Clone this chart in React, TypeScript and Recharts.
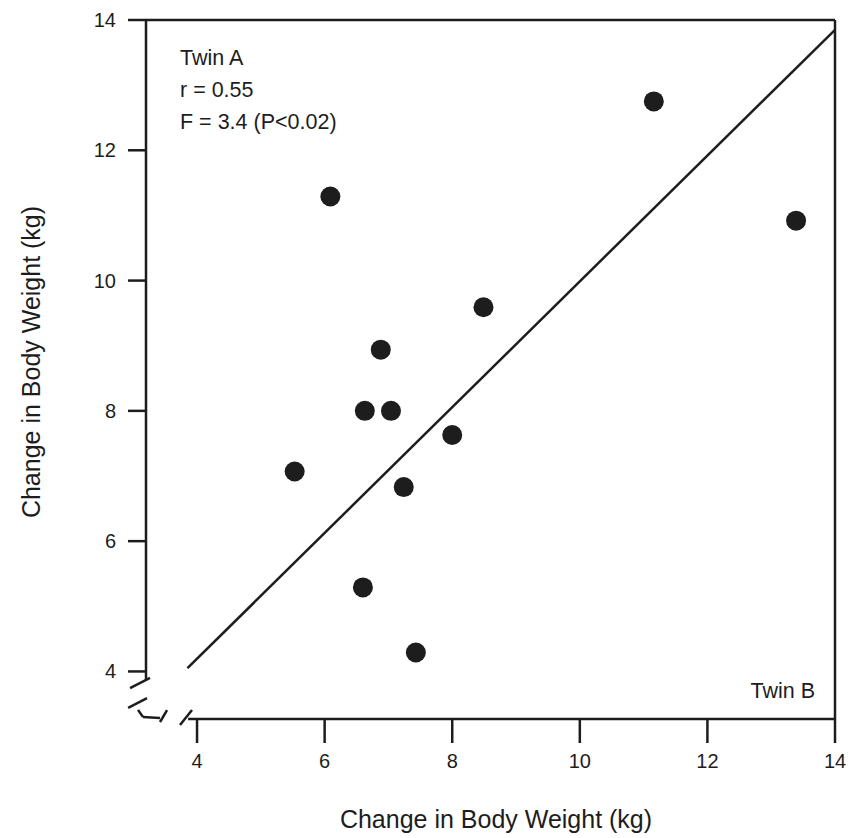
import React from 'react'
import { ScatterChart, Scatter, XAxis, YAxis, ReferenceLine } from 'recharts'

// Twin B change (x) vs Twin A change (y), kg
const twinB = [11.16, 6.09, 13.39, 8.49, 6.88, 6.63, 7.04, 8.0, 5.53, 7.24, 6.6, 7.43]
const twinA = [12.75, 11.29, 10.92, 9.59, 8.94, 8.0, 8.0, 7.63, 7.07, 6.83, 5.29, 4.29]

const xTicks = [4, 6, 8, 10, 12, 14]
const yTicks = [4, 6, 8, 10, 12, 14]

const xDomain: [number, number] = [3.2, 14]
const yDomain: [number, number] = [3.27, 14]

// fitted line
const fitLine = [
  { x: 3.85, y: 4.05 },
  { x: 14, y: 13.85 },
]

// axis stubs and break marks (bottom-left corner)
const axisSegments = [
  [{ x: 3.2, y: 14 }, { x: 3.2, y: 3.87 }],
  [{ x: 3.86, y: 3.27 }, { x: 14, y: 3.27 }],
  [{ x: 2.95, y: 3.745 }, { x: 3.263, y: 3.9 }],
  [{ x: 2.92, y: 3.44 }, { x: 3.216, y: 3.59 }],
  [{ x: 3.075, y: 3.41 }, { x: 3.153, y: 3.3 }],
  [{ x: 3.153, y: 3.3 }, { x: 3.42, y: 3.285 }],
  [{ x: 3.42, y: 3.224 }, { x: 3.53, y: 3.408 }],
  [{ x: 3.733, y: 3.178 }, { x: 3.921, y: 3.408 }],
]

const points = twinB.map((x, i) => ({ x, y: twinA[i] }))

const ink = '#1d1d1d'
const font = '"Liberation Sans", Arial, sans-serif'

const Dot = (props: any) => <circle cx={props.cx} cy={props.cy} r={10} fill={ink} />

const XTick = (props: any) => (
  <text x={props.x} y={props.y} dy={15} textAnchor="middle" fontSize={20} fontFamily={font} fill={ink}>
    {props.payload.value}
  </text>
)

const YTick = (props: any) => (
  <text x={props.x} y={props.y} dy={7} textAnchor="end" fontSize={20} fontFamily={font} fill={ink}>
    {props.payload.value}
  </text>
)

export default function App() {
  return (
    <div style={{ position: 'absolute', left: 0, top: 0, width: 848, height: 838, background: '#fff' }}>
      <ScatterChart width={848} height={838} margin={{ top: 20, right: 13, left: 0, bottom: 0 }}>
        <XAxis
          type="number"
          dataKey="x"
          domain={xDomain}
          ticks={xTicks}
          allowDataOverflow
          height={119}
          axisLine={false}
          tickSize={24}
          tickMargin={10}
          tickLine={{ stroke: ink, strokeWidth: 2.5 }}
          tick={XTick}
        />
        <YAxis
          type="number"
          dataKey="y"
          domain={yDomain}
          ticks={yTicks}
          allowDataOverflow
          width={146}
          axisLine={false}
          tickSize={18}
          tickMargin={12}
          tickLine={{ stroke: ink, strokeWidth: 2.5 }}
          tick={YTick}
        />
        <ReferenceLine y={14} stroke={ink} strokeWidth={2.5} />
        <ReferenceLine x={14} stroke={ink} strokeWidth={2.5} />
        {axisSegments.map((seg, i) => (
          <ReferenceLine key={i} segment={seg} stroke={ink} strokeWidth={2.5} ifOverflow="visible" />
        ))}
        <ReferenceLine segment={fitLine} stroke={ink} strokeWidth={2.5} ifOverflow="visible" />
        <Scatter data={points} shape={Dot} isAnimationActive={false} />
      </ScatterChart>
      <svg
        width={848}
        height={838}
        style={{ position: 'absolute', left: 0, top: 0, pointerEvents: 'none' }}
        fontFamily={font}
        fill={ink}
      >
        <text x={180} y={65} fontSize={21.5}>Twin A</text>
        <text x={180} y={97} fontSize={21.5}>r = 0.55</text>
        <text x={180} y={129} fontSize={21.5}>F = 3.4 (P&lt;0.02)</text>
        <text x={815} y={698} fontSize={21.5} textAnchor="end">Twin B</text>
        <text x={496} y={828} fontSize={25} textAnchor="middle">Change in Body Weight (kg)</text>
        <text x={40} y={362} fontSize={25} textAnchor="middle" transform="rotate(-90 40 362)">
          Change in Body Weight (kg)
        </text>
      </svg>
    </div>
  )
}
